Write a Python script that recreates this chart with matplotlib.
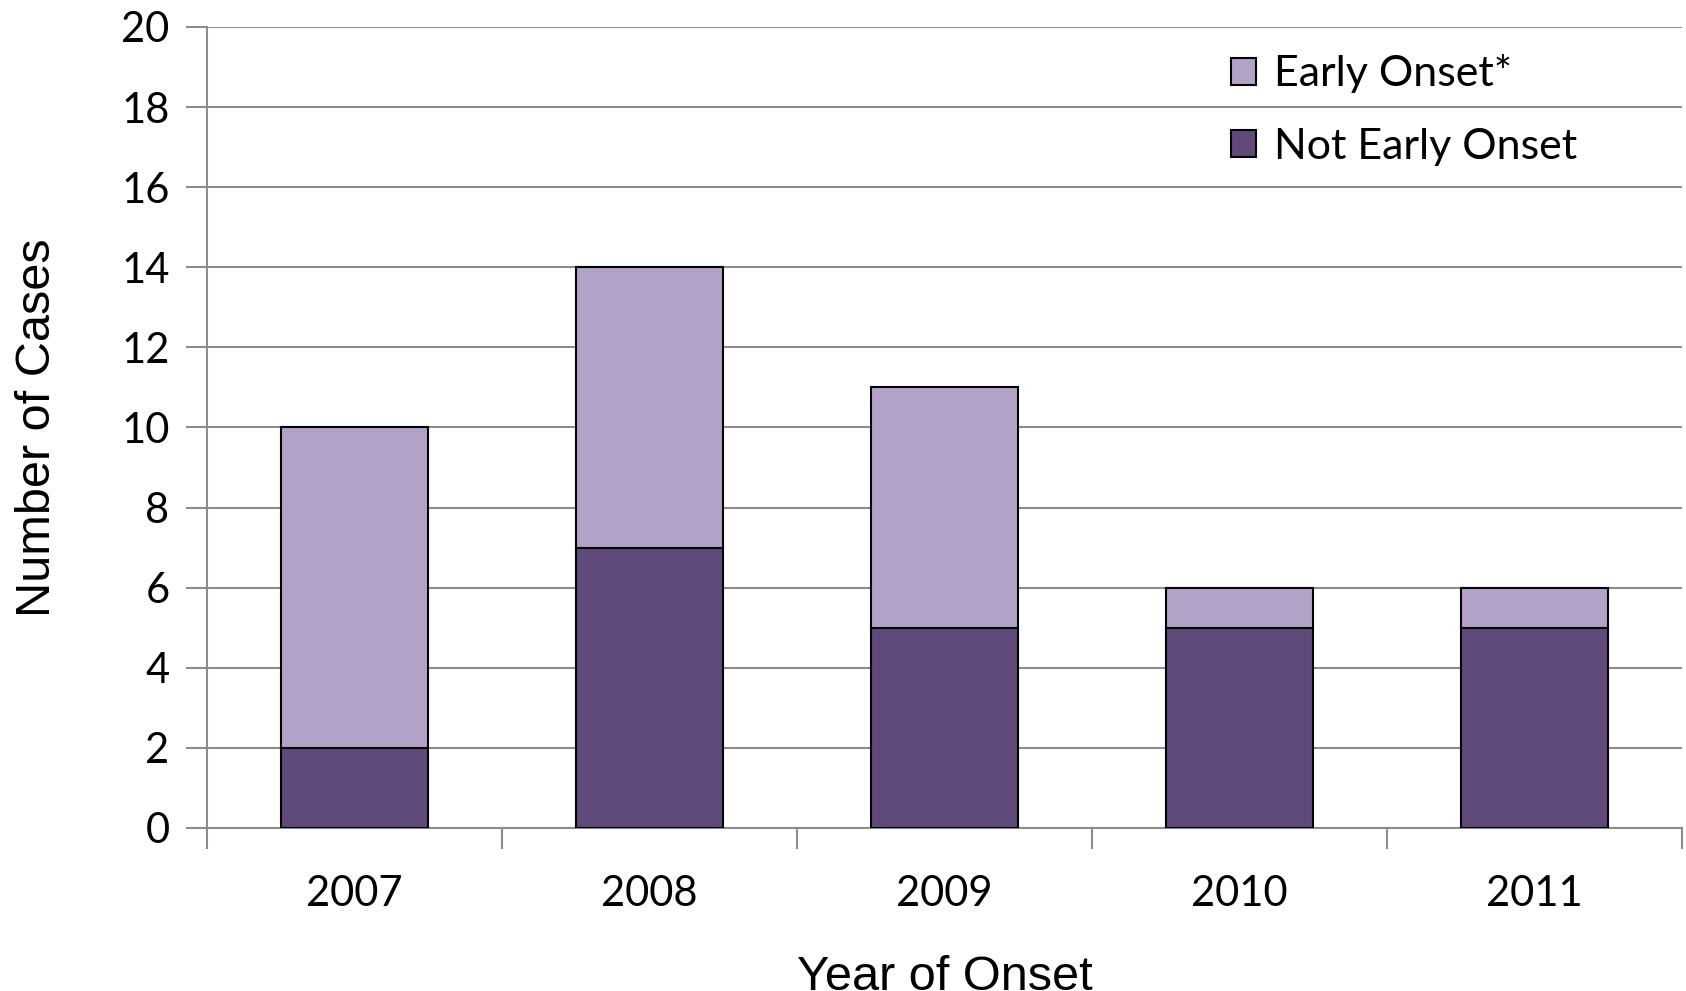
import matplotlib.pyplot as plt
import numpy as np

years = ['2007', '2008', '2009', '2010', '2011']
not_early = [2, 7, 5, 5, 5]
early = [8, 7, 6, 1, 1]

light = '#B3A2C7'
dark = '#604A7B'
grid_col = '#8C8C8C'
tick_font = 'Lato'
label_font = 'Liberation Sans'

fig = plt.figure(figsize=(16.86, 9.91), dpi=100)
ax = fig.add_axes([0.1228, 0.1645, 0.8748, 0.8083])

x = np.arange(len(years))
ax.bar(x, not_early, width=0.5, color=dark, edgecolor='black', linewidth=1.5,
       label='Not Early Onset', zorder=3)
ax.bar(x, early, width=0.5, bottom=not_early, color=light, edgecolor='black',
       linewidth=1.5, label='Early Onset*', zorder=3)

ax.set_xlim(-0.5, len(years) - 0.5)
ax.set_ylim(0, 20)
ax.set_yticks(range(0, 21, 2))
ax.yaxis.grid(True, color=grid_col, linewidth=1.5, zorder=0)

ax.set_xticks(x)
ax.set_xticklabels(years)
ax.set_xticks(np.arange(-0.5, len(years)), minor=True)
ax.tick_params(axis='x', which='major', length=0, pad=34)
ax.tick_params(axis='x', which='minor', length=15, width=1.5, color=grid_col)
ax.tick_params(axis='y', length=15, width=1.5, color=grid_col, pad=12)
for lab in ax.get_xticklabels() + ax.get_yticklabels():
    lab.set_fontfamily(tick_font)
    lab.set_fontsize(30)

for s in ['top', 'right']:
    ax.spines[s].set_visible(False)
for s in ['left', 'bottom']:
    ax.spines[s].set_color(grid_col)
    ax.spines[s].set_linewidth(1.5)

ax.set_xlabel('Year of Onset', fontfamily=label_font, fontsize=35, labelpad=30)
ax.set_ylabel('Number of Cases', fontfamily=label_font, fontsize=35, labelpad=44)

h, l = ax.get_legend_handles_labels()
leg = ax.legend(h[::-1], l[::-1], loc='upper right', bbox_to_anchor=(0.955, 1.014),
                frameon=False, prop={'family': tick_font, 'size': 31},
                handlelength=0.6, handleheight=0.6, handletextpad=0.4,
                labelspacing=0.8)

fig.savefig('out.png', dpi=100)
